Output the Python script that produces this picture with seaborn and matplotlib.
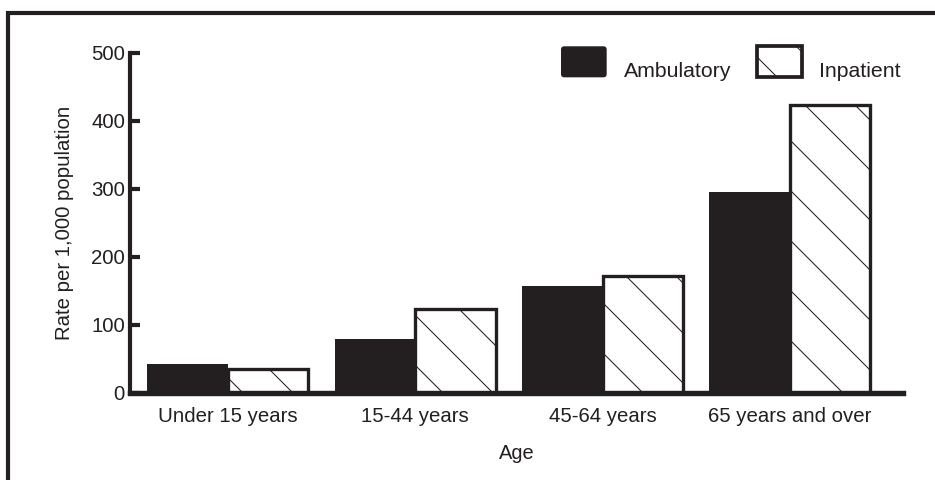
import matplotlib
matplotlib.use("Agg")
import matplotlib.pyplot as plt
import seaborn as sns
import pandas as pd
from matplotlib.patches import Rectangle, Patch, FancyBboxPatch
from matplotlib.legend_handler import HandlerPatch

# ---- data ----
ages = ["Under 15 years", "15-44 years", "45-64 years", "65 years and over"]
ambulatory = [42, 79, 158, 296]
inpatient = [35, 124, 172, 424]
series = ["Ambulatory", "Inpatient"]
yticks = [0, 100, 200, 300, 400, 500]

INK = "#231f20"
DPI = 300
W, H = 935, 480

sns.set_theme(style="white")
plt.rcParams["font.family"] = ["Liberation Sans", "DejaVu Sans"]
plt.rcParams["hatch.linewidth"] = 0.25
plt.rcParams["hatch.color"] = INK
plt.rcParams["text.color"] = INK

df = pd.DataFrame({
    "Age": ages * 2,
    "Rate": ambulatory + inpatient,
    "Type": [series[0]] * len(ages) + [series[1]] * len(ages),
})

fig = plt.figure(figsize=(W / DPI, H / DPI), dpi=DPI)
fig.patch.set_facecolor("white")
ax = fig.add_axes([130 / W, 1 - 393 / H, (903 - 130) / W, (393 - 53) / H])

sns.barplot(data=df, x="Age", y="Rate", hue="Type", order=ages,
            hue_order=series, palette=[INK, "white"], width=0.86,
            saturation=1, ax=ax, legend=False, errorbar=None)

for bar in ax.containers[0]:
    bar.set_edgecolor("none")
    bar.set_linewidth(0)
for bar in ax.containers[1]:
    bar.set_edgecolor(INK)
    bar.set_linewidth(0.8)
    bar.set_hatch("\\\\")

ax.set_xlim(-0.523, 3.604)
ax.set_ylim(0, 500)
ax.set_yticks(yticks)
ax.set_yticklabels([str(v) for v in yticks])

for s in ["top", "right"]:
    ax.spines[s].set_visible(False)
ax.spines["left"].set_linewidth(1.0)
ax.spines["left"].set_color(INK)
ax.spines["bottom"].set_linewidth(1.3)
ax.spines["bottom"].set_color(INK)
ax.spines["bottom"].set_zorder(5)

ax.tick_params(axis="y", direction="in", length=2.3, width=1.0, color=INK,
               labelsize=4.9, labelcolor=INK, pad=1.2, left=True)
ax.tick_params(axis="x", length=0, labelsize=4.9, labelcolor=INK, pad=3.3)

ax.set_xlabel("Age", fontsize=4.8, color=INK, labelpad=4.4)
ax.set_ylabel("Rate per 1,000 population", fontsize=4.9, color=INK, labelpad=4.2)

HH = 1.87


def raised_patch(rounded):
    def make(legend, orig_handle, xdescent, ydescent, width, height, fontsize):
        dy = 0.35 * (HH - 0.7) * fontsize
        if rounded:
            return FancyBboxPatch((-xdescent, -ydescent + dy), width, height,
                                  boxstyle="round,pad=0,rounding_size=0.8")
        return Rectangle((-xdescent, -ydescent + dy), width, height)
    return make


handles = [
    Patch(facecolor=INK, edgecolor="none", label=series[0]),
    Patch(facecolor="white", edgecolor=INK, linewidth=0.9, hatch="\\\\", label=series[1]),
]
leg = ax.legend(handles=handles, ncol=2, frameon=False, fontsize=5.1,
                handlelength=2.15, handleheight=HH, handletextpad=0.8,
                columnspacing=1.2, loc="upper left",
                bbox_to_anchor=((561 - 130) / (903 - 130), 1 + (53 - 55) / (393 - 53)),
                borderaxespad=0, borderpad=0,
                handler_map={handles[0]: HandlerPatch(patch_func=raised_patch(True)),
                             handles[1]: HandlerPatch(patch_func=raised_patch(False))})

# figure frame (top and left border)
fig.add_artist(Rectangle((8 / W, -0.2), 1.2, 1 - 13 / H + 0.2,
                         transform=fig.transFigure, fill=False,
                         edgecolor=INK, linewidth=1.0, clip_on=False))

fig.savefig("out.png", dpi=DPI, facecolor="white")
